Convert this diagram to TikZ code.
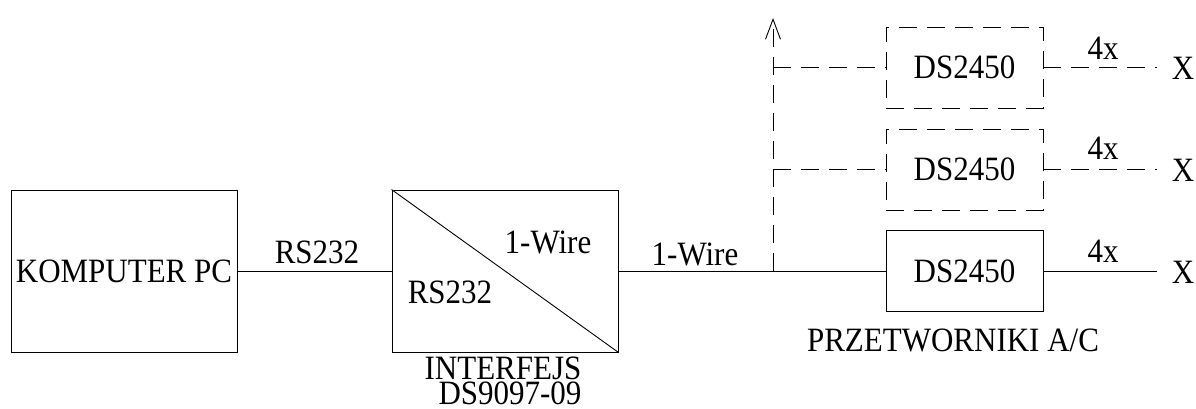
\documentclass[tikz,border=0pt]{standalone}
\usepackage{fontspec}
\setmainfont{Liberation Serif}
\newfontfamily\tnrfont{Liberation Serif}
\usetikzlibrary{arrows.meta}
\newcommand\dgfont{\tnrfont\fontsize{31}{31}\selectfont}
\newcommand\tall[1]{\scalebox{1}[1.1]{#1}}
\begin{document}
\begin{tikzpicture}[x=1pt,y=-1pt,line width=0.9pt,
  bigbox/.style={draw,minimum width=226pt,minimum height=162pt,inner sep=0pt,font=\dgfont},
  dsbox/.style={draw,minimum width=157pt,minimum height=81pt,inner sep=0pt,font=\dgfont},
  dsh/.style={dash pattern=on 18pt off 10pt},
  lbl/.style={anchor=base,inner sep=0pt,font=\dgfont}]
\useasboundingbox (0,0) rectangle (1196,409);
% main boxes
\node[bigbox] (pc) at (124,271) {\tall{KOMPUTER PC}};
\node[bigbox] (if) at (505,271) {};
\draw (if.north west) -- (if.south east);
\node[lbl] (ifa) at (548,253) {\tall{1-Wire}};
\node[lbl] (ifb) at (450,303) {\tall{RS232}};
\node[lbl] (ifc) at (503,379) {\tall{INTERFEJS}};
\node[lbl] (ifd) at (510,404) {\tall{DS9097-09}};
% converters
\node[dsbox] (ds1) at (964.5,271) {\tall{DS2450}};
\node[dsbox,dsh] (ds2) at (964.5,169.5) {\tall{DS2450}};
\node[dsbox,dsh] (ds3) at (964.5,67.5) {\tall{DS2450}};
\node[lbl] (prz) at (953,351) {\tall{PRZETWORNIKI A/C}};
% connections
\draw (pc) -- (if);
\node[lbl] (l1) at (317,263) {\tall{RS232}};
\draw (if) -- (ds1);
\node[lbl] (l2) at (695,265) {\tall{1-Wire}};
\coordinate (j1) at (773,271);
\coordinate (j2) at (773,169.5);
\coordinate (j3) at (773,67.5);
\coordinate (tip) at (773,18);
\draw[dsh,-{Straight Barb[length=20pt,width=15pt,line width=0.9pt]}] (j1) -- (tip);
\draw[dsh] (j2) -- (ds2);
\draw[dsh] (j3) -- (ds3);
% outputs
\coordinate (o1) at (1157,271);
\coordinate (o2) at (1157,169.5);
\coordinate (o3) at (1157,67.5);
\draw (ds1) -- (o1);
\draw[dsh] (ds2) -- (o2);
\draw[dsh] (ds3) -- (o3);
\node[lbl] (n1) at (1103,262) {\tall{4x}};
\node[lbl] (n2) at (1103,160) {\tall{4x}};
\node[lbl] (n3) at (1103,60) {\tall{4x}};
\node[lbl] (x1) at (1183,283) {\tall{X}};
\node[lbl] (x2) at (1183,181) {\tall{X}};
\node[lbl] (x3) at (1183,80) {\tall{X}};
\end{tikzpicture}
\end{document}
